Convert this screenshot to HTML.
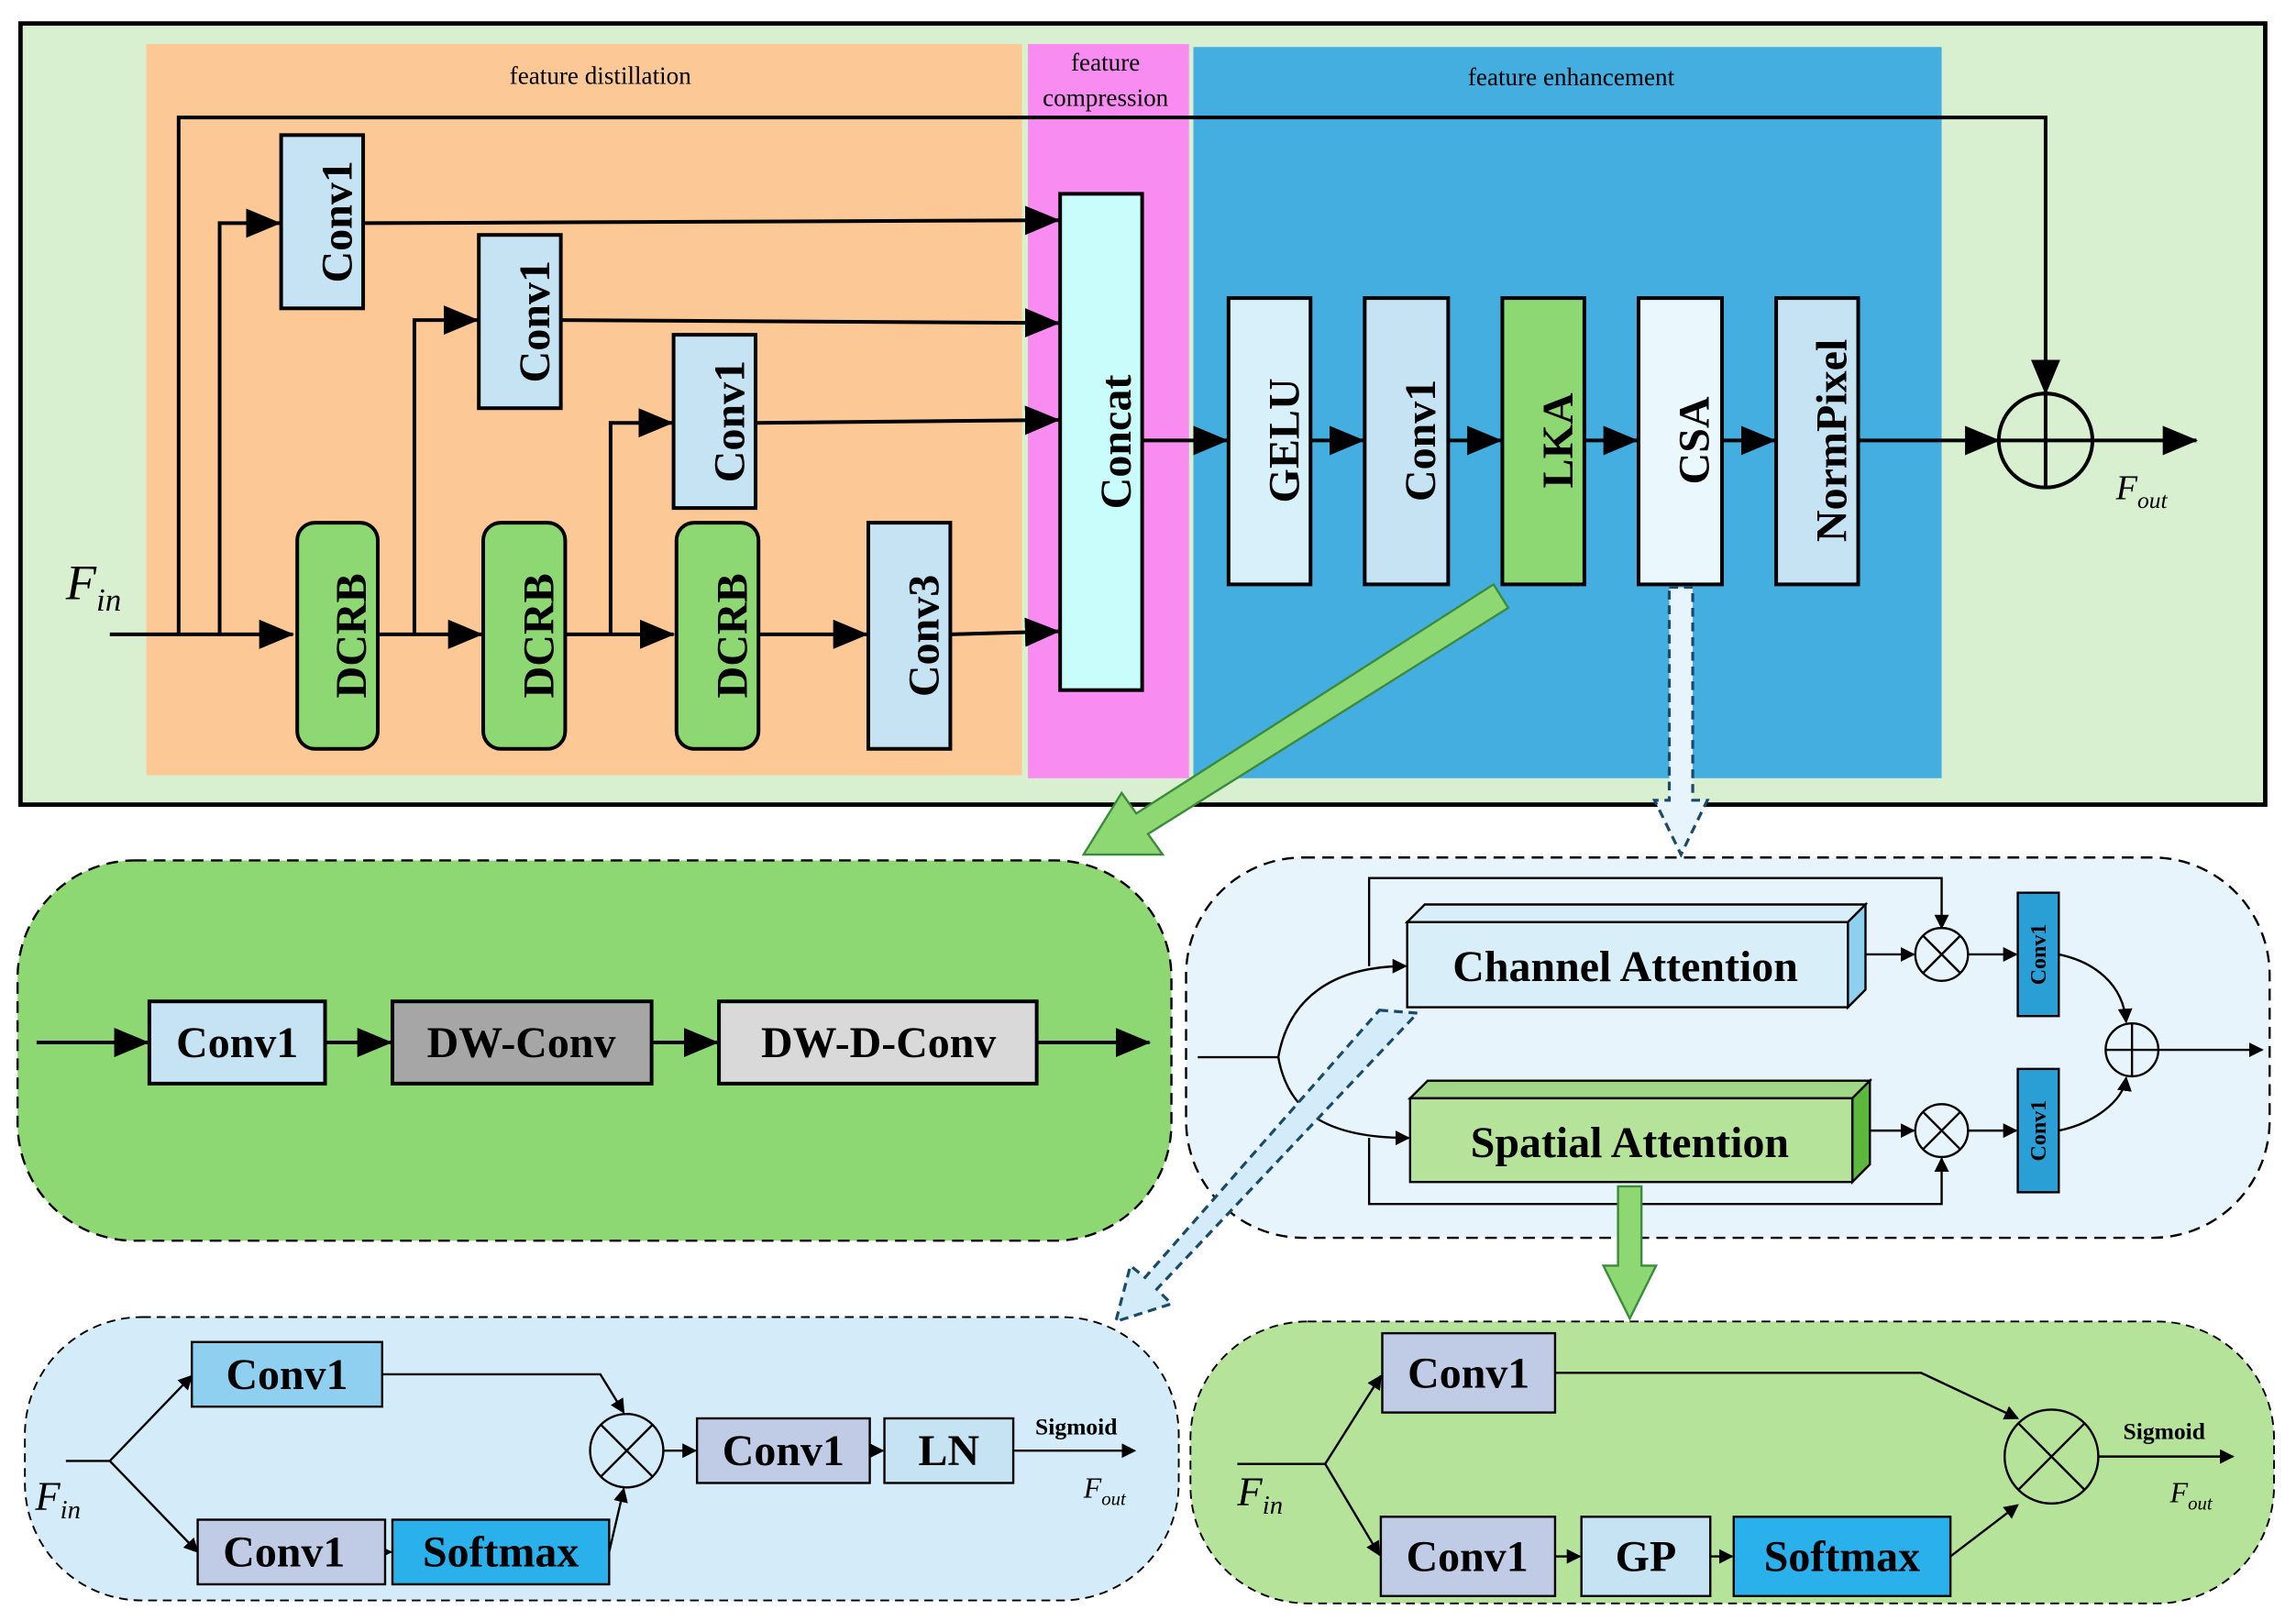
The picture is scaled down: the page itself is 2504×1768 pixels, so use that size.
<!DOCTYPE html>
<html><head><meta charset="utf-8"><style>html,body{margin:0;padding:0;background:#fff}svg{display:block}</style></head><body>
<svg width="2504" height="1768" viewBox="0 0 1568 1104" preserveAspectRatio="none" xmlns="http://www.w3.org/2000/svg" font-family="'Liberation Serif', serif">
<defs>
<marker id="a" markerWidth="10" markerHeight="10" refX="9" refY="5" orient="auto" markerUnits="userSpaceOnUse" viewBox="0 0 10 10"><path d="M0,0L10,5L0,10z" fill="#000"/></marker>
<marker id="A" markerWidth="24" markerHeight="20" refX="23" refY="10" orient="auto" markerUnits="userSpaceOnUse" viewBox="0 0 24 20"><path d="M0,0L24,10L0,20z" fill="#000"/></marker>
</defs>
<rect x="0" y="0" width="1568" height="1104" fill="#fff"/>
<!-- top frame -->
<rect x="14" y="16" width="1533" height="532" fill="#d8f0d0" stroke="#000" stroke-width="3"/>
<rect x="100" y="30" width="598" height="498" fill="#fcc896"/>
<rect x="702" y="30" width="110" height="500" fill="#f98cf0"/>
<rect x="815" y="32" width="511" height="498" fill="#45aee0"/>
<g font-size="17" text-anchor="middle" fill="#000">
<text x="410" y="57">feature distillation</text>
<text x="755" y="48">feature</text>
<text x="755" y="72">compression</text>
<text x="1073" y="58">feature enhancement</text>
</g>
<g stroke="#000" stroke-width="2.5" fill="none">
<path d="M75,432H200" marker-end="url(#A)"/>
<path d="M122,432V80H1397V268" marker-end="url(#A)"/>
<path d="M150,432V152H191" marker-end="url(#A)"/>
<path d="M248,152L723,150" marker-end="url(#A)"/>
<path d="M258,432H329" marker-end="url(#A)"/>
<path d="M283,432V218H326" marker-end="url(#A)"/>
<path d="M383,218L723,220" marker-end="url(#A)"/>
<path d="M386,432H460" marker-end="url(#A)"/>
<path d="M417,432V288H459" marker-end="url(#A)"/>
<path d="M516,288L723,286" marker-end="url(#A)"/>
<path d="M518,432H592" marker-end="url(#A)"/>
<path d="M649,432L723,430" marker-end="url(#A)"/>
<path d="M780,300H838" marker-end="url(#A)"/>
<path d="M895,300H931" marker-end="url(#A)"/>
<path d="M989,300H1025" marker-end="url(#A)"/>
<path d="M1082,300H1118" marker-end="url(#A)"/>
<path d="M1176,300H1212" marker-end="url(#A)"/>
<path d="M1269,300H1365" marker-end="url(#A)"/>
<path d="M1429,300H1500" marker-end="url(#A)"/>
<circle cx="1397" cy="300" r="32"/>
<path d="M1365,300H1429M1397,268V332"/>
</g>
<g stroke="#000" stroke-width="2.5">
<rect x="192" y="92" width="56" height="118" fill="#c5e3f2"/>
<rect x="327" y="160" width="56" height="118" fill="#c5e3f2"/>
<rect x="460" y="228" width="56" height="118" fill="#c5e3f2"/>
<rect x="203" y="356" width="55" height="154" rx="12" fill="#8ed873"/>
<rect x="330" y="356" width="56" height="154" rx="12" fill="#8ed873"/>
<rect x="462" y="356" width="56" height="154" rx="12" fill="#8ed873"/>
<rect x="593" y="356" width="56" height="154" fill="#c5e3f2"/>
<rect x="724" y="132" width="56" height="338" fill="#c8fdfc"/>
<rect x="839" y="203" width="56" height="195" fill="#d8f0fa"/>
<rect x="932" y="203" width="57" height="195" fill="#c5e3f2"/>
<rect x="1026" y="203" width="56" height="195" fill="#8ed873"/>
<rect x="1119" y="203" width="57" height="195" fill="#eaf8fd"/>
<rect x="1213" y="203" width="56" height="195" fill="#c5e3f2"/>
</g>
<g font-size="30" font-weight="bold" text-anchor="middle" fill="#000">
<text transform="translate(230,151) rotate(-90)" dy="10">Conv1</text>
<text transform="translate(365,219) rotate(-90)" dy="10">Conv1</text>
<text transform="translate(498,287) rotate(-90)" dy="10">Conv1</text>
<text transform="translate(240,433) rotate(-90)" dy="10">DCRB</text>
<text transform="translate(368,433) rotate(-90)" dy="10">DCRB</text>
<text transform="translate(500,433) rotate(-90)" dy="10">DCRB</text>
<text transform="translate(631,433) rotate(-90)" dy="10">Conv3</text>
<text transform="translate(762,301) rotate(-90)" dy="10">Concat</text>
<text transform="translate(877,300) rotate(-90)" dy="10">GELU</text>
<text transform="translate(970,300) rotate(-90)" dy="10">Conv1</text>
<text transform="translate(1064,300) rotate(-90)" dy="10">LKA</text>
<text transform="translate(1157,300) rotate(-90)" dy="10">CSA</text>
<text transform="translate(1251,300) rotate(-90)" dy="10">NormPixel</text>
</g>
<text x="45" y="408" font-size="34" font-style="italic">F<tspan font-size="22" dy="8">in</tspan></text>
<text x="1445" y="340" font-size="24" font-style="italic">F<tspan font-size="16" dy="6">out</tspan></text>
<!-- big arrows -->
<polygon points="1020,398 1030,414 784,568 794,582 740,582 766,540 776,554" fill="#8ed873" stroke="#3c8a3c" stroke-width="1.5"/>
<polygon points="1140,400 1156,400 1156,545 1166,545 1148,582 1130,545 1140,545" fill="#e8f4fb" stroke="#1a4a6a" stroke-width="2" stroke-dasharray="6,4"/>
<!-- LKA panel -->
<rect x="12" y="586" width="788" height="259" rx="80" fill="#8ed873" stroke="#000" stroke-width="1.5" stroke-dasharray="8,5"/>
<g stroke="#000" stroke-width="2.5" fill="none">
<path d="M25,710H101" marker-end="url(#A)"/>
<path d="M222,710H267" marker-end="url(#A)"/>
<path d="M445,710H490" marker-end="url(#A)"/>
<path d="M708,710H785" marker-end="url(#A)"/>
</g>
<g stroke="#000" stroke-width="2.5">
<rect x="102" y="682" width="120" height="56" fill="#c5e3f2"/>
<rect x="268" y="682" width="177" height="56" fill="#a6a6a6"/>
<rect x="491" y="682" width="217" height="56" fill="#d9d9d9"/>
</g>
<g font-size="30" font-weight="bold" text-anchor="middle">
<text x="162" y="720">Conv1</text><text x="356" y="720">DW-Conv</text><text x="600" y="720">DW-D-Conv</text>
</g>
<!-- CSA panel -->
<rect x="810" y="584" width="740" height="259" rx="80" fill="#e8f4fb" stroke="#000" stroke-width="1.5" stroke-dasharray="8,5"/>
<g stroke="#000" stroke-width="1.5" fill="none">
<path d="M818,720H873C880,680 910,658 960,658" marker-end="url(#a)"/>
<path d="M873,720C880,760 910,775 962,775" marker-end="url(#a)"/>
<path d="M935,658V598H1326V632" marker-end="url(#a)"/>
<path d="M935,775V820H1326V789" marker-end="url(#a)"/>
<path d="M1274,650H1307" marker-end="url(#a)"/>
<path d="M1277,770H1307" marker-end="url(#a)"/>
<path d="M1344,650H1377" marker-end="url(#a)"/>
<path d="M1344,770H1377" marker-end="url(#a)"/>
<path d="M1406,650C1430,655 1450,670 1452,696" marker-end="url(#a)"/>
<path d="M1406,770C1430,765 1450,750 1452,734" marker-end="url(#a)"/>
<path d="M1474,715H1545" marker-end="url(#a)"/>
<circle cx="1326" cy="650" r="18"/><path d="M1313,637L1339,663M1339,637L1313,663"/>
<circle cx="1326" cy="770" r="18"/><path d="M1313,757L1339,783M1339,757L1313,783"/>
<circle cx="1456" cy="715" r="18"/><path d="M1438,715H1474M1456,697V733"/>
</g>
<g stroke="#000" stroke-width="1.5">
<polygon points="961,628 973,616 1274,616 1262,628" fill="#d8eef9"/>
<polygon points="1262,628 1274,616 1274,674 1262,686" fill="#8fd0f0"/>
<rect x="961" y="628" width="301" height="58" fill="#d8eef9"/>
<polygon points="963,748 975,736 1277,736 1265,748" fill="#a0d888"/>
<polygon points="1265,748 1277,736 1277,793 1265,805" fill="#5cb83c"/>
<rect x="963" y="748" width="302" height="57" fill="#b5e39a"/>
<rect x="1378" y="608" width="28" height="84" fill="#2a9fd6"/>
<rect x="1378" y="728" width="28" height="84" fill="#2a9fd6"/>
</g>
<g font-size="30" font-weight="bold" text-anchor="middle">
<text x="1110" y="668">Channel Attention</text>
<text x="1113" y="788">Spatial Attention</text>
</g>
<g font-size="15" font-weight="bold" text-anchor="middle">
<text transform="translate(1392,650) rotate(-90)" dy="5">Conv1</text>
<text transform="translate(1392,770) rotate(-90)" dy="5">Conv1</text>
</g>
<polygon points="942,688 968,690 790,878 800,888 762,900 772,862 782,870" fill="#d4ecf9" stroke="#1a4a6a" stroke-width="2" stroke-dasharray="6,4"/>
<polygon points="1105,808 1121,808 1121,862 1131,862 1113,898 1095,862 1105,862" fill="#8ed873" stroke="#3c8a3c" stroke-width="1.5"/>
<!-- channel attention panel -->
<rect x="17" y="897" width="788" height="193" rx="80" fill="#d4ecf9" stroke="#000" stroke-width="1.2" stroke-dasharray="6,4"/>
<g stroke="#000" stroke-width="1.5" fill="none">
<path d="M45,995H75L131,937" marker-end="url(#a)"/>
<path d="M75,995L135,1057" marker-end="url(#a)"/>
<path d="M261,936H410L426,962" marker-end="url(#a)"/>
<path d="M416,1057L426,1014" marker-end="url(#a)"/>
<path d="M263,1057H267" marker-end="url(#a)"/>
<path d="M453,988H475" marker-end="url(#a)"/>
<path d="M594,988H603" marker-end="url(#a)"/>
<path d="M692,988H775" marker-end="url(#a)"/>
<circle cx="428" cy="988" r="25"/><path d="M410,970L446,1006M446,970L410,1006"/>
</g>
<g stroke="#000" stroke-width="1.5">
<rect x="131" y="914" width="130" height="44" fill="#8fd0f0"/>
<rect x="135" y="1035" width="128" height="44" fill="#c0cce6"/>
<rect x="268" y="1035" width="148" height="44" fill="#2ab0ea"/>
<rect x="476" y="966" width="118" height="44" fill="#c0cce6"/>
<rect x="604" y="966" width="88" height="44" fill="#c5e3f2"/>
</g>
<g font-size="30" font-weight="bold" text-anchor="middle">
<text x="196" y="946">Conv1</text><text x="194" y="1067">Conv1</text><text x="342" y="1067">Softmax</text>
<text x="535" y="998">Conv1</text><text x="648" y="998">LN</text>
</g>
<text x="735" y="977" font-size="16" font-weight="bold" text-anchor="middle">Sigmoid</text>
<text x="740" y="1020" font-size="20" font-style="italic">F<tspan font-size="13" dy="5">out</tspan></text>
<text x="24" y="1028" font-size="28" font-style="italic">F<tspan font-size="18" dy="6">in</tspan></text>
<!-- spatial attention panel -->
<rect x="813" y="900" width="740" height="192" rx="80" fill="#b5e39a" stroke="#000" stroke-width="1.2" stroke-dasharray="6,4"/>
<g stroke="#000" stroke-width="1.5" fill="none">
<path d="M845,997H905L943,937" marker-end="url(#a)"/>
<path d="M905,997L942,1059" marker-end="url(#a)"/>
<path d="M1062,935L1312,935L1378,966" marker-end="url(#a)"/>
<path d="M1062,1060H1079" marker-end="url(#a)"/>
<path d="M1168,1060H1183" marker-end="url(#a)"/>
<path d="M1332,1060L1378,1025" marker-end="url(#a)"/>
<path d="M1433,992H1525" marker-end="url(#a)"/>
<circle cx="1401" cy="992" r="32"/><path d="M1378,969L1424,1015M1424,969L1378,1015"/>
</g>
<g stroke="#000" stroke-width="1.5">
<rect x="944" y="908" width="118" height="54" fill="#c0cce6"/>
<rect x="943" y="1033" width="119" height="54" fill="#c0cce6"/>
<rect x="1080" y="1033" width="88" height="54" fill="#c5e3f2"/>
<rect x="1184" y="1033" width="148" height="54" fill="#2ab0ea"/>
</g>
<g font-size="30" font-weight="bold" text-anchor="middle">
<text x="1003" y="945">Conv1</text><text x="1002" y="1070">Conv1</text><text x="1124" y="1070">GP</text><text x="1258" y="1070">Softmax</text>
</g>
<text x="1478" y="980" font-size="16" font-weight="bold" text-anchor="middle">Sigmoid</text>
<text x="1482" y="1023" font-size="20" font-style="italic">F<tspan font-size="13" dy="5">out</tspan></text>
<text x="845" y="1025" font-size="28" font-style="italic">F<tspan font-size="18" dy="6">in</tspan></text>
</svg>
</body></html>
